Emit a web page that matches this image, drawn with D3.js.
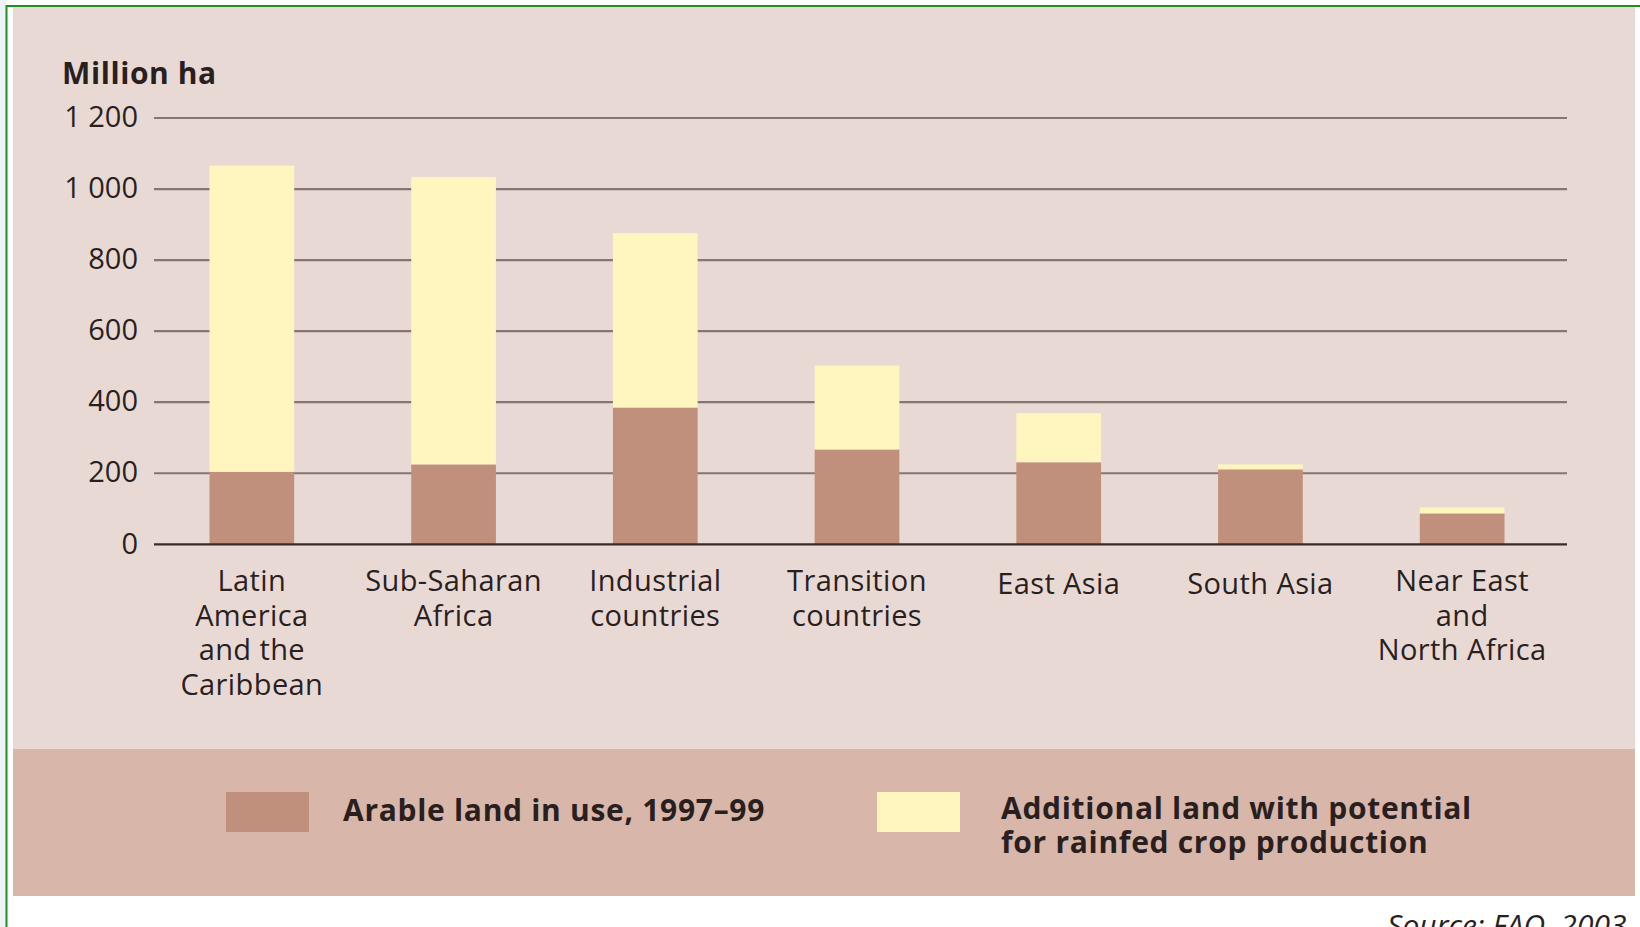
<!DOCTYPE html>
<html>
<head>
<meta charset="utf-8">
<script src="https://cdn.jsdelivr.net/npm/d3@7"></script>
<style>
  html, body { margin: 0; padding: 0; background: #ffffff; overflow: hidden; }
  svg { display: block; font-family: "Open Sans", "Noto Sans", sans-serif; }
</style>
</head>
<body>
<svg id="chart" width="1640" height="927"></svg>
<script>
// ---- data ----
const categories = [
  "Latin America and the Caribbean",
  "Sub-Saharan Africa",
  "Industrial countries",
  "Transition countries",
  "East Asia",
  "South Asia",
  "Near East and North Africa"
];
const categoryLines = [
  ["Latin", "America", "and the", "Caribbean"],
  ["Sub-Saharan", "Africa"],
  ["Industrial", "countries"],
  ["Transition", "countries"],
  ["East Asia"],
  ["South Asia"],
  ["Near East", "and", "North Africa"]
];
const arableInUse = [204, 225, 385, 267, 231, 211, 87];
const additionalPotential = [862, 809, 491, 236, 138, 14, 17];
const yTicks = [0, 200, 400, 600, 800, 1000, 1200];
const yTickLabels = ["0", "200", "400", "600", "800", "1 000", "1 200"];
const seriesNames = ["Arable land in use, 1997–99", "Additional land with potential for rainfed crop production"];
const legendLines = [["Arable land in use, 1997–99"], ["Additional land with potential", "for rainfed crop production"]];
const unitLabel = "Million ha";
const sourceNote = "Source: FAO, 2003.";

// ---- styles ----
const colArable = "#c1907c";
const colAdditional = "#fff5bf";
const panelBg = "#e9d9d5";
const legendBg = "#d8b6a9";
const gridCol = "#877572";
const textCol = "#2a1f1f";

const svg = d3.select("#chart");

// frame
svg.append("rect").attr("x", 0).attr("y", 0).attr("width", 1640).attr("height", 927).attr("fill", "#ffffff");
svg.append("rect").attr("x", 0).attr("y", 0).attr("width", 6).attr("height", 927).attr("fill", "#eef2f9");
svg.append("rect").attr("x", 13).attr("y", 7).attr("width", 1622).attr("height", 742).attr("fill", panelBg);
svg.append("rect").attr("x", 13).attr("y", 749).attr("width", 1622).attr("height", 147).attr("fill", legendBg);
svg.append("rect").attr("x", 6.5).attr("y", 6).attr("width", 1700).attr("height", 1000)
  .attr("fill", "none").attr("stroke", "#1f8f1f").attr("stroke-width", 2);

// scales
const x = d3.scaleBand().domain(categories).range([151, 1563]).paddingInner(0.58).paddingOuter(0.29);
const y = d3.scaleLinear().domain([0, 1200]).range([544.3, 118]);
const gridX0 = 154, gridX1 = 1567;

// tick labels via axis
const yAxis = d3.axisLeft(y).tickValues(yTicks).tickSize(0).tickFormat((d, i) => yTickLabels[i]);
const gAxis = svg.append("g").attr("transform", `translate(${gridX0},0)`).call(yAxis);
gAxis.select(".domain").remove();
gAxis.selectAll("text")
  .attr("x", -16)
  .attr("dy", "0.3em")
  .attr("fill", textCol)
  .style("font-size", "29px")
  .style("font-family", '"Open Sans", sans-serif');

const grid = svg.append("g");
grid.selectAll("line").data(yTicks.filter(d => d !== 0)).join("line")
  .attr("x1", gridX0).attr("x2", gridX1)
  .attr("y1", d => y(d)).attr("y2", d => y(d))
  .attr("stroke", gridCol).attr("stroke-width", 2.2);

// stacked bars
const rows = categories.map((c, i) => ({ cat: c, arable: arableInUse[i], additional: additionalPotential[i] }));
const stack = d3.stack().keys(["arable", "additional"]);
const stacked = stack(rows);
const colors = [colArable, colAdditional];
svg.append("g").selectAll("g").data(stacked).join("g")
  .attr("fill", (d, i) => colors[i])
  .selectAll("rect").data(d => d).join("rect")
  .attr("x", d => x(d.data.cat))
  .attr("width", x.bandwidth())
  .attr("y", d => y(d[1]))
  .attr("height", d => y(d[0]) - y(d[1]));

// zero line
svg.append("line").attr("x1", gridX0).attr("x2", gridX1)
  .attr("y1", y(0)).attr("y2", y(0))
  .attr("stroke", "#3a2b2b").attr("stroke-width", 2.2);

// unit label
svg.append("text").attr("x", 62).attr("y", 84)
  .attr("fill", textCol).style("font-size", "30px").style("font-weight", 700)
  .style("letter-spacing", "0.6px")
  .text(unitLabel);

// category labels
const xl = svg.append("g");
categories.forEach((c, i) => {
  const cx = x(c) + x.bandwidth() / 2;
  const t = xl.append("text")
    .attr("x", cx)
    .attr("y", categoryLines[i].length === 1 ? 594 : 591)
    .attr("text-anchor", "middle")
    .attr("fill", textCol)
    .style("font-size", "29px")
    .style("letter-spacing", "0.4px");
  categoryLines[i].forEach((ln, j) => {
    t.append("tspan").attr("x", cx).attr("dy", j === 0 ? 0 : 34.7).text(ln);
  });
});

// legend
const legendItems = [
  { sx: 226, tx: 343, color: colArable, lines: legendLines[0], y0: 821 },
  { sx: 877, tx: 1001, color: colAdditional, lines: legendLines[1], y0: 819 }
];
const lg = svg.append("g");
legendItems.forEach(it => {
  lg.append("rect").attr("x", it.sx).attr("y", 792).attr("width", 83).attr("height", 40).attr("fill", it.color);
  const t = lg.append("text").attr("x", it.tx).attr("y", it.y0)
    .attr("fill", textCol).style("font-size", "30px").style("font-weight", 700)
    .style("letter-spacing", "0.7px");
  it.lines.forEach((ln, j) => t.append("tspan").attr("x", it.tx).attr("dy", j === 0 ? 0 : 33.5).text(ln));
});

// source
svg.append("text").attr("x", 1634).attr("y", 936).attr("text-anchor", "end")
  .attr("fill", textCol).style("font-size", "30px").style("font-style", "italic")
  .text(sourceNote);
</script>
</body>
</html>
